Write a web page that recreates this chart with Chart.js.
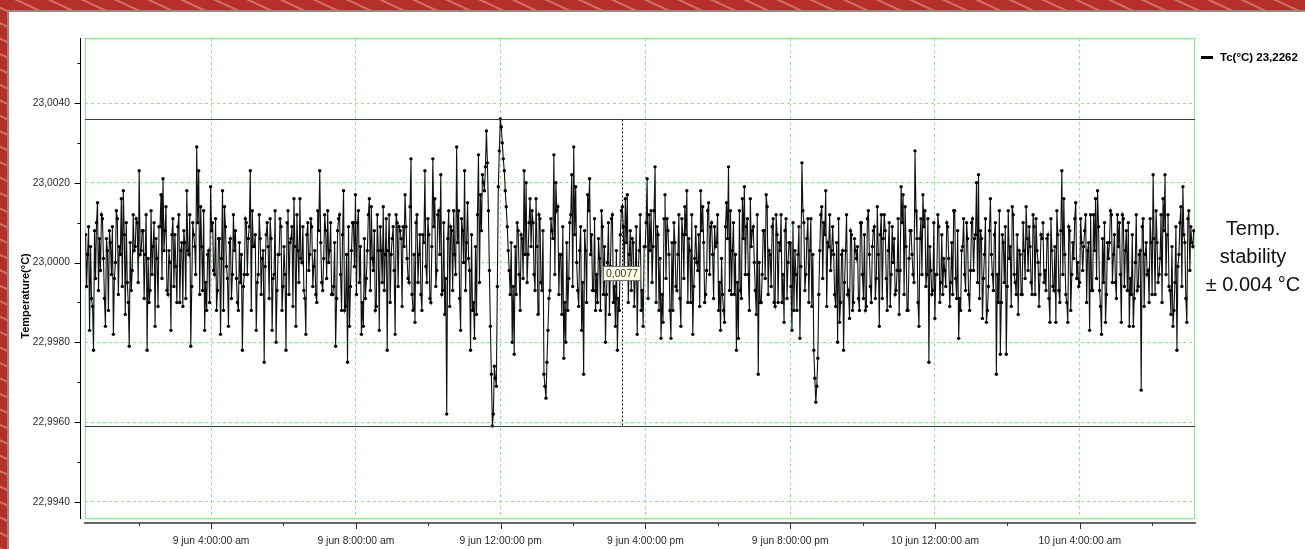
<!DOCTYPE html>
<html>
<head>
<meta charset="utf-8">
<script src="https://cdn.jsdelivr.net/npm/chart.js@4.4.1/dist/chart.umd.min.js"></script>
<style>
  html, body { margin: 0; padding: 0; width: 1305px; height: 549px; overflow: hidden; }
  body {
    position: relative;
    font-family: "Liberation Sans", Arial, sans-serif;
    background: #b5302a repeating-linear-gradient(205deg, #b5302a 0px, #b5302a 11px, #d27068 12px, #d27068 13px, #b5302a 14px);
  }
  #panel {
    position: absolute; left: 7px; top: 10px; right: 0; bottom: 0;
    background: #fff; border-left: 2px solid #8c8c8c; border-top: 2px solid #8c8c8c;
  }
  #chart { position: absolute; left: 0; top: 0; }
  #swatch { position: absolute; left: 1201px; top: 56px; width: 12px; height: 3px; background: #000; }
  #legend { position: absolute; left: 1220px; top: 50px; font-weight: bold; font-size: 11.5px; line-height: 14px; color: #000; white-space: nowrap; }
  #note { position: absolute; left: 1193px; top: 214px; width: 120px; text-align: center; font-size: 20px; line-height: 28px; color: #111; white-space: nowrap; }
</style>
</head>
<body>
<div id="panel"></div>
<canvas id="chart" width="1305" height="549"></canvas>
<div id="swatch"></div>
<div id="legend">Tc(°C) 23,2262</div>
<div id="note">Temp.<br>stability<br>± 0.004 °C</div>
<script>
// readings: offset from 23,0000 °C in units of 0,0001 °C, one per sample
const baseTemp = 23.0;
const firstMinute = 32;    // 9 jun 0:32 am
const lastMinute = 1869;   // 10 jun 7:09 am
const tempOffsets = [
  7, -6, 2, 9, -17, 4, -9, -11, -22, 8, -4, 10, 15, -7, 6, -2, 12, 11, 1, -9, -16, 6, 3, -12, 8,
  5, -3, 9, -18, -4, 0, 13, 11, -8, 4, 2, 16, -6, 18, 7, -13, 10, -5, -10, -21, 5, -7, -2, 12, 3,
  4, 11, 10, -5, 23, 2, 3, 8, 8, -9, 2, 12, -22, 1, -10, -7, 13, -3, 4, 10, -16, 6, 1, -11, 9,
  9, 17, -4, 21, 3, 8, 14, -7, -8, 3, 0, -17, 7, 11, -6, 7, -1, -10, 9, 12, -10, 3, 5, -11, 8,
  5, -9, 18, 3, 2, 12, -21, -6, 10, 7, 4, -3, 29, 10, 23, -8, 14, 4, -7, 13, -17, -5, -12, 2, 3,
  -10, 19, 8, 10, -2, -3, 11, -12, -7, 6, 6, -18, 1, 18, -12, 14, 9, -1, -4, -16, 5, 6, -9, -3, 12,
  3, 8, -4, -10, -12, 5, -5, 2, -22, -6, -3, 11, 10, -3, 6, 9, 23, -12, 13, 4, 4, 7, -17, -5, -3,
  12, 6, -8, 1, 3, -25, -1, 7, 10, 4, -9, 11, 6, -17, -4, -3, 13, -20, -7, 2, 2, 11, 9, -12, -6,
  4, -3, -22, 10, 13, -8, 5, 6, 9, -11, 16, 4, -16, 12, 3, -5, 16, 1, 0, 9, -7, -9, -18, 7, 10,
  -2, 2, 11, 9, -6, -1, 3, -8, -10, 13, 8, 23, 5, -5, -7, 1, 12, 8, -4, 13, 0, 3, 10, -8, -8,
  -6, 5, -21, -9, 8, 11, 12, -3, -12, 7, 18, -12, -11, 2, -25, 9, -16, -6, 3, 10, 10, -1, 17, -8, 10,
  13, -5, 4, -18, -10, -16, 6, -9, -4, 3, 12, 16, -7, 14, 1, -2, 8, -12, -11, 12, 3, -17, 9, 3, -5,
  14, -7, 2, 11, -22, 3, 12, -10, 2, 6, 9, -2, -18, 12, 10, -6, 9, 8, 6, -11, 9, 4, 17, 9, 1,
  -4, -5, 14, 26, -8, -12, 2, -15, 10, 12, -5, 2, 7, -8, -12, 7, 5, 23, -1, -5, 11, 7, -9, -10, 4,
  26, 9, 16, -6, -2, 12, 13, 2, 22, -8, -7, 10, -13, -4, -38, 6, 13, -11, 9, 8, -7, 13, 2, -3, 29,
  5, 13, -9, -17, 11, 8, 0, 23, -7, 5, 15, 1, -2, -22, 7, -12, -10, -19, 4, -13, 12, 27, -5, 17, 8,
  22, 20, 18, 24, 33, 25, 13, -2, -16, -28, -41, -38, -26, -29, -31, -6, 19, 28, 36, 34, 30, 26, 23, 18, 14,
  9, 3, -2, -8, 5, -20, -6, -23, 4, -8, 10, 8, -3, -12, 7, 6, -4, 23, 2, 20, -5, 2, 10, 16, 4,
  13, 10, -3, -7, 16, 4, -13, 12, 11, -5, -7, 8, -28, -31, -34, -25, -17, -9, -7, 11, 8, 6, 27, -3, 20,
  13, 14, -8, 2, 2, -13, 9, -24, -10, -20, 5, -12, -4, 10, 12, 22, -6, 29, 7, 19, 0, -7, -11, 3, 9,
  -17, -5, -28, 8, 3, -10, 17, 13, 21, 2, 7, -7, -7, 11, -12, -3, -10, 6, 1, -12, 13, 9, -8, 4, -20,
  -8, 0, 10, -13, -1, 11, 12, -10, -6, -16, 3, -22, -9, -12, 7, 13, 14, 9, -4, 16, 5, 17, -10, 2, 8,
  -7, 6, 5, -11, -4, 9, -18, -2, 3, 12, -12, -7, -16, 4, 4, 10, 21, -9, 12, 3, 13, -5, 4, 13, 24,
  -10, 9, 7, -12, 1, -19, -8, -15, 11, 17, -4, 11, 8, 2, -12, -19, 5, -12, 10, 5, -6, -7, 2, 12, -9,
  -16, 11, 7, -4, 14, 7, 18, -10, 6, 3, -10, 12, -18, -6, 1, 9, 0, -2, 7, -11, 18, 8, 14, 5, -10,
  -8, -2, 13, 15, -3, 9, 10, 2, -9, 9, 4, 5, 12, -12, -5, -17, 1, -8, -12, -15, 9, 15, 6, 24, -7,
  13, -8, 3, 10, -8, 2, -22, -5, -19, 13, -7, -9, 16, 6, 19, -3, 9, 11, -3, -12, 16, 4, 8, 9, 0,
  -7, -13, 12, -28, 0, -10, -10, -3, 8, 8, -4, 17, 14, -8, 3, 2, -6, 9, 11, -10, -11, 12, 7, -10, 5,
  3, 12, -10, -3, -15, 8, 11, -9, 0, 5, 5, -6, -17, 10, -12, 3, -3, -12, 2, 9, -19, -1, 25, 13, 10,
  -7, -3, 6, 11, -10, 3, 11, -11, 2, -22, -29, -35, -31, -24, -8, 3, 12, 14, -4, 10, 7, 18, -11, 5, 4,
  12, -2, 3, 9, 2, -8, -11, 5, -20, 11, -15, -10, 2, 3, -22, -5, 3, 12, -8, -7, -14, 8, 7, -12, -10,
  6, 3, 1, 4, -9, -12, 10, 10, -3, -9, 7, -12, -11, 11, 13, 2, -6, -10, 4, 8, 9, -9, -4, 14, 2,
  -16, 7, 12, -9, 6, 12, 8, -4, -12, 3, 10, -11, -3, 9, 0, 6, -8, -7, -2, 11, -13, -2, 19, 10, 17,
  -8, 14, 4, -12, -12, 1, 8, 8, 2, -3, -5, 28, 13, 6, -10, -16, 6, 11, -3, 17, 9, 13, -6, -3, 11,
  -25, 4, -2, -8, -7, 10, -14, -3, -3, 12, 9, -10, -5, 7, -8, 1, -2, -6, 10, 9, 1, -11, -5, 5, -8,
  13, 13, -4, -9, 8, -19, -9, -12, 3, 4, 11, -3, -7, 10, 6, -8, -12, -2, 10, 11, -2, 6, 7, 20, -5,
  22, -9, 8, 6, -14, -4, 2, 11, -15, -12, -6, 8, 16, 2, -3, -7, 7, 10, -28, -3, -10, 13, -23, -10, 7,
  5, -5, 9, -23, -6, 13, 1, 4, -11, 14, 12, -3, -5, -8, 7, -13, 3, 2, -8, -8, 10, 3, -4, 14, 6,
  -2, 9, 4, -5, -8, 12, 9, -8, 11, 3, 0, -11, -3, 7, 6, 10, -5, -2, -7, 6, 7, -9, -15, 11, 3,
  -6, -7, 4, -15, 13, 7, -7, -10, 8, 23, -3, 16, 2, -8, -10, -15, 9, 8, -12, -3, 5, 1, 11, 15, -4,
  0, -6, -5, 11, 5, -2, 4, 8, 12, -10, 3, 5, -17, 12, -7, -7, 12, 3, 16, -4, 18, 9, -7, -11, -18,
  6, -5, 10, -15, -8, 5, 1, 5, 13, 12, -5, 2, 7, -5, -9, 12, 4, 10, -3, -15, 12, 11, -6, 3, 8,
  -7, 10, -16, -4, -8, 7, -16, -9, 0, 12, -7, -6, 2, 3, -32, 9, 11, -11, 2, 5, -3, -2, -10, 11, 5,
  -8, 22, 6, -8, 13, 5, -5, -3, 1, 12, -10, 16, 8, 22, -3, 7, 12, -6, -7, -13, 4, -16, -12, -5, 9,
  -22, -1, 2, 10, 14, -6, 19, 7, 5, -9, -15, 11, 13, -2, 9, 5, 4, 8
];

const xTickMinutes = [240, 480, 720, 960, 1200, 1440, 1680];
const xTickLabels = ['9 jun 4:00:00 am', '9 jun 8:00:00 am', '9 jun 12:00:00 pm', '9 jun 4:00:00 pm',
                     '9 jun 8:00:00 pm', '10 jun 12:00:00 am', '10 jun 4:00:00 am'];
const xMinorMinutes = [120, 360, 600, 840, 1080, 1320, 1560, 1800];
const yTicks = [22.994, 22.996, 22.998, 23.000, 23.002, 23.004];
const yMinorTicks = [22.995, 22.997, 22.999, 23.001, 23.003, 23.005];
const cursorMinute = 921;

const step = (lastMinute - firstMinute) / (tempOffsets.length - 1);
const points = tempOffsets.map((d, i) => ({ x: firstMinute + i * step, y: baseTemp + d / 10000 }));
const tMax = Math.max(...points.map(p => p.y));
const tMin = Math.min(...points.map(p => p.y));

const fmt = v => v.toFixed(4).replace('.', ',');
const GREEN = '#86ec86';
const FONT = '"Liberation Sans", Arial, sans-serif';

const decor = {
  id: 'decor',
  beforeDatasetsDraw(chart) {
    const { ctx, chartArea: a } = chart;
    ctx.save();
    ctx.strokeStyle = GREEN;
    ctx.lineWidth = 1;
    ctx.strokeRect(a.left + 0.5, a.top + 0.5, a.right - a.left - 1, a.bottom - a.top - 1);
    ctx.restore();
  },
  afterDatasetsDraw(chart) {
    const { ctx, chartArea: a, scales: { x, y } } = chart;
    const yHi = Math.round(y.getPixelForValue(tMax)) + 0.5;
    const yLo = Math.round(y.getPixelForValue(tMin)) + 0.5;
    const xc = Math.round(x.getPixelForValue(cursorMinute)) + 0.5;
    ctx.save();
    // max / min lines
    ctx.strokeStyle = '#3c3c3c';
    ctx.lineWidth = 1;
    ctx.beginPath();
    ctx.moveTo(a.left, yHi); ctx.lineTo(a.right, yHi);
    ctx.moveTo(a.left, yLo); ctx.lineTo(a.right, yLo);
    ctx.stroke();
    // cursor
    ctx.strokeStyle = '#000';
    ctx.setLineDash([2, 2]);
    ctx.beginPath();
    ctx.moveTo(xc, yHi); ctx.lineTo(xc, yLo);
    ctx.stroke();
    ctx.setLineDash([]);
    // readout of span
    const txt = fmt(tMax - tMin);
    ctx.font = '10.5px ' + FONT;
    const w = ctx.measureText(txt).width + 5;
    const h = 14;
    const bx = Math.round(xc - w / 2 - 1) + 0.5;
    const by = Math.round((yHi + yLo) / 2 - h / 2) + 0.5;
    ctx.fillStyle = '#ffffe1';
    ctx.fillRect(bx, by, w, h);
    ctx.strokeStyle = '#707070';
    ctx.strokeRect(bx, by, w, h);
    ctx.fillStyle = '#333';
    ctx.textBaseline = 'middle';
    ctx.textAlign = 'center';
    ctx.fillText(txt, bx + w / 2, by + h / 2 + 1);
    ctx.restore();
  },
  afterDraw(chart) {
    const { ctx, chartArea: a, scales: { x, y } } = chart;
    ctx.save();
    // y axis line and ticks
    const ax = a.left - 5 + 0.5;
    ctx.strokeStyle = '#000';
    ctx.lineWidth = 1;
    ctx.beginPath();
    ctx.moveTo(ax, a.top); ctx.lineTo(ax, a.bottom);
    yTicks.forEach(v => { const py = Math.round(y.getPixelForValue(v)) + 0.5; ctx.moveTo(ax - 6, py); ctx.lineTo(ax, py); });
    yMinorTicks.forEach(v => { const py = Math.round(y.getPixelForValue(v)) + 0.5; ctx.moveTo(ax - 3, py); ctx.lineTo(ax, py); });
    ctx.stroke();
    // x axis line and ticks
    const ay = a.bottom + 4;
    ctx.strokeStyle = '#666';
    ctx.lineWidth = 2;
    ctx.beginPath();
    ctx.moveTo(a.left - 1, ay); ctx.lineTo(a.right + 1, ay);
    ctx.stroke();
    ctx.strokeStyle = '#333';
    ctx.lineWidth = 1;
    ctx.beginPath();
    xTickMinutes.forEach(v => { const px = Math.round(x.getPixelForValue(v)) + 0.5; ctx.moveTo(px, ay); ctx.lineTo(px, ay + 6); });
    xMinorMinutes.forEach(v => {
      if (v < x.min || v > x.max) return;
      const px = Math.round(x.getPixelForValue(v)) + 0.5; ctx.moveTo(px, ay); ctx.lineTo(px, ay + 3);
    });
    ctx.stroke();
    // y title
    ctx.translate(26, 296);
    ctx.rotate(-Math.PI / 2);
    ctx.font = 'bold 11px ' + FONT;
    ctx.fillStyle = '#000';
    ctx.textAlign = 'center';
    ctx.textBaseline = 'middle';
    ctx.fillText('Temperature(°C)', 0, 0);
    ctx.restore();
  }
};

new Chart(document.getElementById('chart'), {
  type: 'line',
  data: {
    datasets: [{
      label: 'Tc(°C)',
      data: points,
      borderColor: '#111',
      borderWidth: 1.1,
      pointRadius: 1.7,
      pointBackgroundColor: '#000',
      pointBorderWidth: 0,
      tension: 0
    }]
  },
  options: {
    responsive: false,
    animation: false,
    layout: { padding: { top: 38, right: 110, left: 0, bottom: 0 } },
    plugins: { legend: { display: false }, tooltip: { enabled: false } },
    scales: {
      x: {
        type: 'linear',
        min: 31,
        max: 1871,
        afterFit: s => { s.height = 30; },
        afterBuildTicks: s => { s.ticks = xTickMinutes.map(v => ({ value: v })); },
        grid: { color: GREEN, drawTicks: false },
        border: { display: false, dash: [3, 3] },
        ticks: {
          autoSkip: false,
          maxRotation: 0,
          padding: 16,
          color: '#2a2a2a',
          font: { family: FONT, size: 10.3 },
          callback: v => xTickLabels[xTickMinutes.indexOf(v)]
        }
      },
      y: {
        min: 22.99357,
        max: 23.00563,
        afterFit: s => { s.width = 85; },
        afterBuildTicks: s => { s.ticks = yTicks.map(v => ({ value: v })); },
        grid: { color: GREEN, drawTicks: false },
        border: { display: false, dash: [3, 3] },
        ticks: {
          padding: 15,
          color: '#2a2a2a',
          font: { family: FONT, size: 10.3 },
          callback: v => fmt(v)
        }
      }
    }
  },
  plugins: [decor]
});
</script>
</body>
</html>
